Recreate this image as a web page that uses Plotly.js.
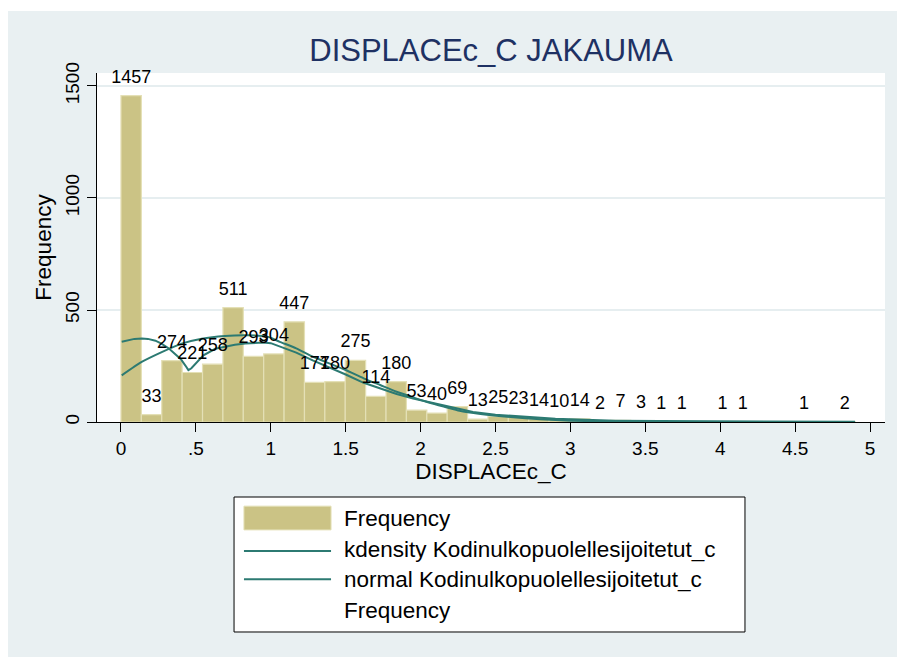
<!DOCTYPE html>
<html>
<head>
<meta charset="utf-8">
<script src="https://cdn.plot.ly/plotly-3.0.1.min.js"></script>
<style>
  html, body { margin: 0; padding: 0; background: #ffffff; }
  #chart { position: absolute; left: 8px; top: 11px; width: 889px; height: 646px; }
</style>
</head>
<body>
<div id="chart"></div>
<script>
// Histogram of DISPLACEc_C: bin counts (bins of equal width starting at 0)
const binWidth = 0.1361;
const counts = [1457, 33, 274, 221, 258, 511, 293, 304, 447, 177, 180, 275, 114, 180,
                53, 40, 69, 13, 25, 23, 14, 10, 14, 2, 7, 3, 1, 1, 0, 1, 1, 0, 0, 1, 0, 2];

// Kernel density estimate, scaled to frequency
const kdenX = [0.005, 0.05, 0.09, 0.14, 0.18, 0.23, 0.27, 0.32, 0.36, 0.40, 0.43, 0.45, 0.47, 0.50,
               0.55, 0.63, 0.70, 0.76, 0.83, 0.895, 0.95, 1.0,
               1.07, 1.17, 1.28, 1.39, 1.50, 1.62, 1.73, 1.84, 1.95, 2.06, 2.2, 2.35, 2.5,
               2.7, 2.9, 3.1, 3.3, 3.6, 4.0, 4.5, 4.9];
const kdenY = [358, 366, 371, 373, 371, 363, 350, 328, 306, 280, 252, 232, 240, 262,
               298, 327, 338, 345, 350, 354, 355, 352,
               336, 310, 275, 245, 212, 175, 150, 125, 105, 88, 65, 45, 32,
               22, 15, 10, 6, 4, 3, 2, 1];

// Normal density, scaled to frequency
const normX = [0.005, 0.138, 0.272, 0.405, 0.539, 0.694, 0.85, 0.983, 1.06, 1.17, 1.28, 1.39,
               1.5, 1.62, 1.73, 1.84, 1.95, 2.06, 2.17, 2.26, 2.4, 2.6, 2.8, 3.0, 3.3, 3.6, 4.0, 4.9];
const normY = [208, 268, 312, 350, 372, 384, 387, 380, 358, 329, 292, 262,
               232, 195, 165, 135, 110, 86, 66, 50, 36, 22, 12, 6, 2, 0.5, 0, 0];

// Axis ticks
const xTickVals = [0, 0.5, 1, 1.5, 2, 2.5, 3, 3.5, 4, 4.5, 5];
const xTickText = ['0', '.5', '1', '1.5', '2', '2.5', '3', '3.5', '4', '4.5', '5'];
const yTickVals = [0, 500, 1000, 1500];
const yTickText = ['0', '500', '1000', '1500'];

// Legend labels
const legendLabels = ['Frequency', 'kdensity Kodinulkopuolellesijoitetut_c',
                      'normal Kodinulkopuolellesijoitetut_c', 'Frequency'];

const barColor = '#cbc385';
const barEdge = '#e4e0b6';
const lineColor = '#2c7a72';
const font = 'Liberation Sans, Arial, Helvetica, sans-serif';

const centers = counts.map((_, i) => (i + 0.5) * binWidth);
const labelText = counts.map(c => (c > 0 ? String(c) : ''));

const traces = [
  {
    type: 'bar', x: centers, y: counts, width: binWidth,
    marker: { color: barColor, line: { color: barEdge, width: 1.2 } },
    hoverinfo: 'x+y', showlegend: false
  },
  {
    type: 'scatter', mode: 'lines', x: kdenX, y: kdenY,
    line: { color: lineColor, width: 2 },
    showlegend: false
  },
  {
    type: 'scatter', mode: 'lines', x: normX, y: normY,
    line: { color: lineColor, width: 2, shape: 'spline', smoothing: 0.6 },
    showlegend: false
  },
  {
    // count labels above each bar; invisible markers lift the text a little
    type: 'scatter', mode: 'markers+text', x: centers, y: counts, text: labelText,
    marker: { size: 12, opacity: 0 },
    textposition: 'top center', textfont: { family: font, size: 18, color: '#000' },
    cliponaxis: false, showlegend: false, hoverinfo: 'skip'
  }
];

// Legend box drawn in paper coordinates below the plot
const boxX0 = 0.1739, boxX1 = 0.8223, boxY0 = -0.2149, boxY1 = -0.6017;
const swX0 = 0.1865, swX1 = 0.2970;
const textX = 0.3109;
const rowY = [-0.2751, -0.3639, -0.4527, -0.5415];

const shapes = [
  { type: 'rect', xref: 'paper', yref: 'paper', x0: boxX0, x1: boxX1, y0: boxY0, y1: boxY1,
    line: { color: '#000', width: 1 }, fillcolor: '#ffffff', layer: 'below' },
  { type: 'rect', xref: 'paper', yref: 'paper', x0: swX0, x1: swX1, y0: rowY[0] + 0.034, y1: rowY[0] - 0.034,
    line: { color: barEdge, width: 1 }, fillcolor: barColor },
  { type: 'line', xref: 'paper', yref: 'paper', x0: swX0, x1: swX1, y0: rowY[1] - 0.006, y1: rowY[1] - 0.006,
    line: { color: lineColor, width: 2 } },
  { type: 'line', xref: 'paper', yref: 'paper', x0: swX0, x1: swX1, y0: rowY[2] + 0.002, y1: rowY[2] + 0.002,
    line: { color: lineColor, width: 2 } }
];

const annotations = legendLabels.map((t, i) => ({
  xref: 'paper', yref: 'paper', x: textX, y: rowY[i], text: t, showarrow: false,
  xanchor: 'left', yanchor: 'middle', font: { family: font, size: 22.5, color: '#000' }
}));

const layout = {
  width: 889, height: 646,
  margin: { l: 89, r: 12, t: 62, b: 235 },
  paper_bgcolor: '#e9f0f2', plot_bgcolor: '#ffffff',
  font: { family: font, color: '#000' },
  bargap: 0,
  title: {
    text: 'DISPLACEc_C JAKAUMA', xref: 'paper', x: 0.5, xanchor: 'center',
    yref: 'container', y: 0.9396, yanchor: 'middle',
    font: { family: font, size: 31, color: '#1e3163' }
  },
  xaxis: {
    range: [-0.160, 5.100], tickvals: xTickVals, ticktext: xTickText,
    ticks: 'outside', ticklen: 9, tickwidth: 1, tickcolor: '#000',
    showline: true, linecolor: '#000', linewidth: 1, showgrid: false, zeroline: false,
    tickfont: { family: font, size: 19, color: '#000' },
    title: { text: 'DISPLACEc_C', font: { family: font, size: 22.5, color: '#000' }, standoff: 0 },
    automargin: false
  },
  yaxis: {
    range: [0, 1558], tickvals: yTickVals, ticktext: yTickText, tickangle: -90,
    ticks: 'outside', ticklen: 9, tickwidth: 1, tickcolor: '#000',
    showline: true, linecolor: '#000', linewidth: 1,
    showgrid: true, gridcolor: '#e6eef0', gridwidth: 2, zeroline: false,
    tickfont: { family: font, size: 19, color: '#000' },
    title: { text: 'Frequency', font: { family: font, size: 22.5, color: '#000' }, standoff: 4 },
    automargin: false
  },
  shapes: shapes,
  annotations: annotations,
  showlegend: false
};

Plotly.newPlot('chart', traces, layout, { displayModeBar: false, staticPlot: true });
</script>
</body>
</html>
